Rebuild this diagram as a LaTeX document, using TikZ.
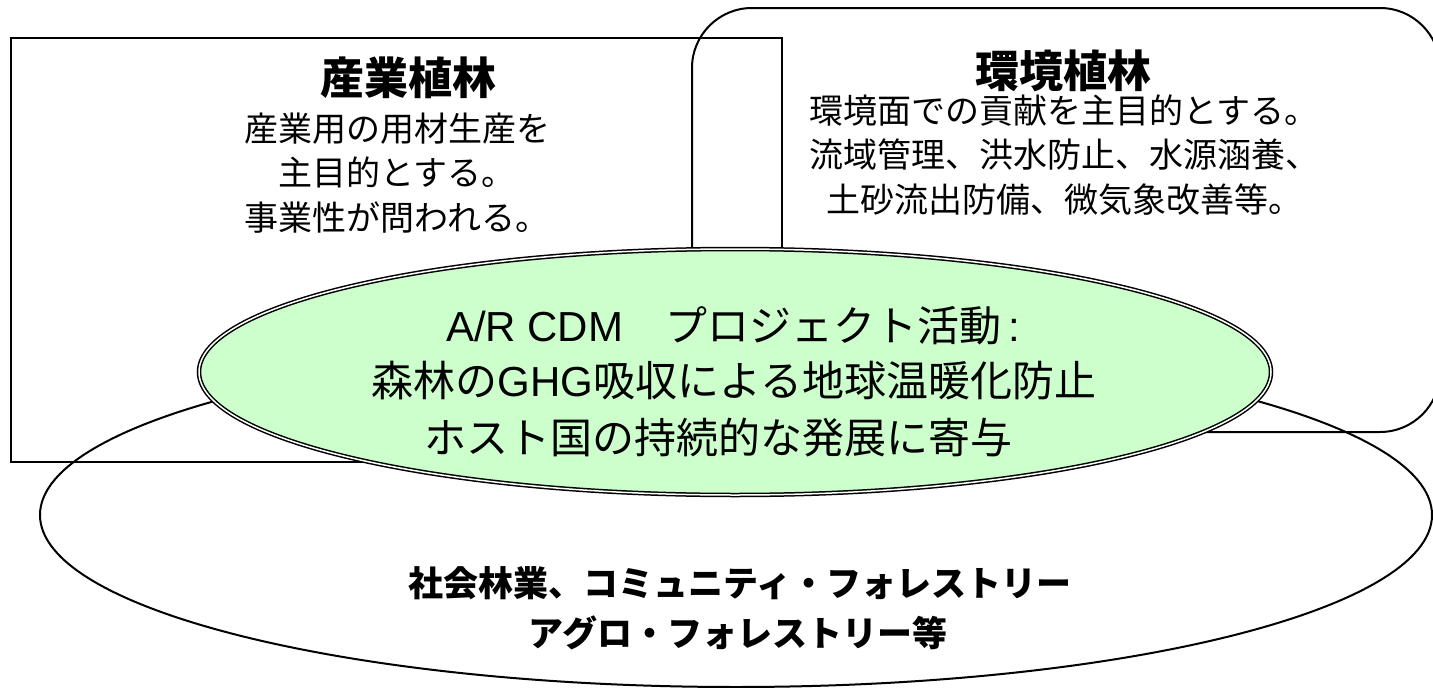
\documentclass[tikz,border=0pt]{standalone}
\usepackage{fontspec}
\setmainfont{Liberation Sans}
\newfontfamily\jp{Noto Sans CJK JP}
\newfontfamily\lat{Liberation Sans}
\usetikzlibrary{shapes.geometric}
\definecolor{lightgreen}{HTML}{CCFFCC}
\tikzset{
  frame/.style={draw=black, line width=2pt, inner sep=0pt, outer sep=0pt},
  titletext/.style={anchor=base, inner sep=0pt, font=\jp\bfseries\fontsize{44}{48}\selectfont},
  bodytext/.style={anchor=base, inner sep=0pt, font=\jp\fontsize{34}{40}\selectfont},
  greentext/.style={anchor=base, inner sep=0pt, font=\jp\fontsize{42}{48}\selectfont},
  socialtext/.style={anchor=base, inner sep=0pt, font=\jp\bfseries\fontsize{35}{40}\selectfont},
}
\begin{document}
\begin{tikzpicture}[x=1pt,y=-1pt]
\useasboundingbox (0,0) rectangle (1433,688);
% shapes
\node[frame, rectangle, minimum width=771pt, minimum height=424pt] (ind) at (396.5,250) {};
\node[frame, rectangle, rounded corners=60pt, minimum width=748pt, minimum height=424pt] (env) at (1066,220) {};
\node[frame, ellipse, minimum width=1392pt, minimum height=344pt] (soc) at (736,515) {};
\node[draw=black, fill=lightgreen, ellipse, line width=1.5pt, double=white, double distance=1.5pt,
      inner sep=0pt, minimum width=1072pt, minimum height=246pt] (cdm) at (735,372) {};
% industrial plantation
\node[titletext] (indT) at (408,94) {産業植林};
\node[bodytext] (ind1) at (397,141) {産業用の用材生産を};
\node[bodytext] (ind2) at (397,185) {主目的とする。};
\node[bodytext] (ind3) at (397,230) {事業性が問われる。};
% environmental plantation
\node[titletext] (envT) at (1063,87) {環境植林};
\node[bodytext] (env1) at (1064,123) {環境面での貢献を主目的とする。};
\node[bodytext] (env2) at (1064,167) {流域管理、洪水防止、水源涵養、};
\node[bodytext] (env3) at (1064,212) {土砂流出防備、微気象改善等。};
% CDM
\node[greentext] (cdm1) at (733,341) {{\lat A/R CDM}　プロジェクト活動{\lat\,:}};
\node[greentext] (cdm2) at (734,396) {森林の{\lat GHG}吸収による地球温暖化防止};
\node[greentext] (cdm3) at (718,453) {ホスト国の持続的な発展に寄与};
% social forestry
\node[socialtext] (soc1) at (740,596) {社会林業、コミュニティ・フォレストリー};
\node[socialtext] (soc2) at (738,646) {アグロ・フォレストリー等};
\end{tikzpicture}
\end{document}
